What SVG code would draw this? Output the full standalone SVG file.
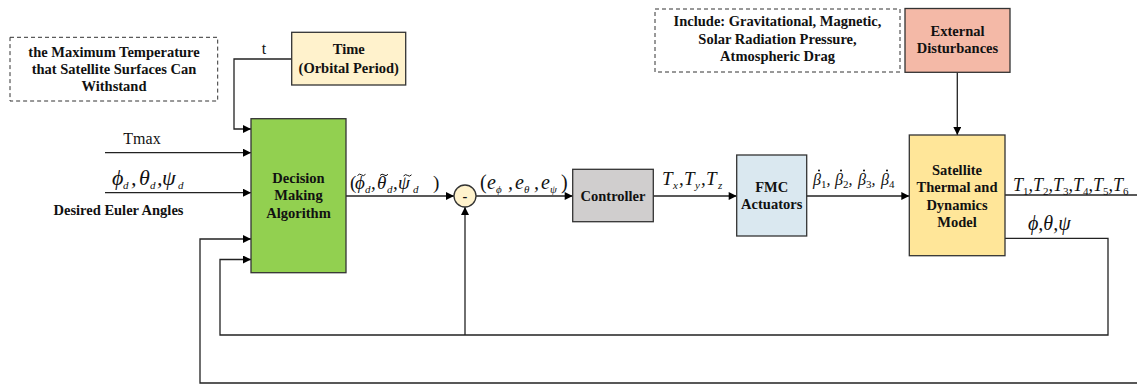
<svg xmlns="http://www.w3.org/2000/svg" width="1137" height="385" viewBox="0 0 1137 385">
<defs>
<marker id="arr" viewBox="0 0 10 10" refX="10" refY="5" markerWidth="9" markerHeight="8" markerUnits="userSpaceOnUse" orient="auto">
<path d="M0,0 L10,5 L0,10 z" fill="#000"/>
</marker>
</defs>
<style>
.box{stroke:#333;stroke-width:1.3}
.dash{fill:#fff;stroke:#333;stroke-width:1;stroke-dasharray:4,3}
.bt{font-family:'Liberation Serif','Times New Roman',serif;font-weight:bold;font-size:14.5px;fill:#111;text-anchor:middle}
.rt{font-family:'Liberation Serif','Times New Roman',serif;font-size:16px;fill:#111}
.m{font-family:'Liberation Serif','Times New Roman',serif;font-style:italic;fill:#111}
.n{font-style:normal}
.sub{font-size:11px}
.til{fill:none;stroke:#111;stroke-width:1}
.ln{fill:none;stroke:#222;stroke-width:1.3}
.la{fill:none;stroke:#222;stroke-width:1.3;marker-end:url(#arr)}
</style>
<rect width="1137" height="385" fill="#fff"/>

<g id="connectors">
<polyline class="la" points="291.7,59 234,59 234,129 251,129"/>
<line class="la" x1="105" y1="152.7" x2="251" y2="152.7"/>
<line class="la" x1="105" y1="192.7" x2="251" y2="192.7"/>
<line class="la" x1="346" y1="196" x2="454" y2="196"/>
<line class="la" x1="476" y1="196" x2="572.7" y2="196"/>
<line class="la" x1="653.3" y1="196" x2="736.7" y2="196"/>
<line class="la" x1="806.7" y1="196" x2="909.3" y2="196"/>
<line class="la" x1="957.3" y1="72.3" x2="957.3" y2="135"/>
<line class="ln" x1="1005" y1="195" x2="1137" y2="195"/>
<polyline class="la" points="1005,238.3 1108,238.3 1108,335 220,335 220,259.5 251,259.5"/>
<line class="la" x1="465" y1="335" x2="465" y2="207"/>
<polyline class="la" points="1137,383 200,383 200,239 251,239"/>
</g>

<g id="note-temp">
<rect class="dash" x="10" y="37.3" width="207.7" height="63.7"/>
<text class="bt" x="114" y="56.5">the Maximum Temperature</text>
<text class="bt" x="114" y="73.5">that Satellite Surfaces Can</text>
<text class="bt" x="114" y="90.5">Withstand</text>
</g>

<g id="time">
<rect class="box" x="291.7" y="32.3" width="114" height="52.7" fill="#fff2cc"/>
<text class="bt" x="348.7" y="54">Time</text>
<text class="bt" x="348.7" y="73">(Orbital Period)</text>
</g>

<g id="decision">
<rect class="box" x="251" y="118.7" width="95" height="154" fill="#92d050"/>
<text class="bt" x="298.5" y="183">Decision</text>
<text class="bt" x="298.5" y="200">Making</text>
<text class="bt" x="298.5" y="217.5">Algorithm</text>
</g>

<g id="sum">
<circle cx="465" cy="196" r="11" fill="#fff2cc" stroke="#333" stroke-width="1.3"/>
<text class="bt" x="465" y="200.5">-</text>
</g>

<g id="controller">
<rect class="box" x="572.7" y="169.3" width="80.6" height="52.4" fill="#d0cece"/>
<text class="bt" x="613" y="200.5">Controller</text>
</g>

<g id="fmc">
<rect class="box" x="736.7" y="155" width="70" height="81" fill="#dae8f0"/>
<text class="bt" x="771.7" y="192">FMC</text>
<text class="bt" x="771.7" y="209">Actuators</text>
</g>

<g id="satellite">
<rect class="box" x="909.3" y="135" width="95.7" height="120.7" fill="#ffe699"/>
<text class="bt" x="957" y="174.5">Satellite</text>
<text class="bt" x="957" y="192">Thermal and</text>
<text class="bt" x="957" y="209.5">Dynamics</text>
<text class="bt" x="957" y="227">Model</text>
</g>

<g id="note-dist">
<rect class="dash" x="655" y="9" width="245" height="63"/>
<text class="bt" x="777.5" y="26">Include: Gravitational, Magnetic,</text>
<text class="bt" x="777.5" y="43.5">Solar Radiation Pressure,</text>
<text class="bt" x="777.5" y="61">Atmospheric Drag</text>
</g>

<g id="external">
<rect class="box" x="905" y="8.5" width="105" height="63.8" fill="#f4b9a7"/>
<text class="bt" x="957.5" y="35.5">External</text>
<text class="bt" x="957.5" y="53">Disturbances</text>
</g>

<g id="labels">
<text class="rt" x="264" y="54" text-anchor="middle">t</text>
<text class="rt" x="142" y="144" text-anchor="middle">Tmax</text>
<text class="m" y="185" font-size="22"><tspan x="112">ϕ</tspan><tspan class="sub" x="123" dy="4">d</tspan><tspan dy="-4" x="131">,</tspan><tspan x="139">θ</tspan><tspan class="sub" x="150" dy="4">d</tspan><tspan dy="-4" x="157">,</tspan><tspan x="162">ψ</tspan><tspan class="sub" x="178" dy="4">d</tspan></text>
<text class="bt" x="118.5" y="215">Desired Euler Angles</text>

<text class="m" y="189" font-size="19"><tspan class="n" x="350">(</tspan><tspan x="355">ϕ</tspan><tspan class="sub" x="365" dy="4">d</tspan><tspan dy="-4" x="371">,</tspan><tspan x="377">θ</tspan><tspan class="sub" x="387" dy="4">d</tspan><tspan dy="-4" x="393">,</tspan><tspan x="398">ψ</tspan><tspan class="sub" x="413" dy="4">d</tspan><tspan class="n" dy="-4" x="433">)</tspan></text>
<path class="til" d="M357.5,175.5 q2,-2.4 4,-0.6 t4,-0.6"/>
<path class="til" d="M380,175.5 q2,-2.4 4,-0.6 t4,-0.6"/>
<path class="til" d="M403.5,176 q2,-2.4 4,-0.6 t4,-0.6"/>

<text class="m" y="189" font-size="20"><tspan class="n" x="480">(</tspan><tspan x="487">e</tspan><tspan class="sub" dy="4">ϕ</tspan><tspan dy="-4" x="508">,</tspan><tspan x="515">e</tspan><tspan class="sub" dy="4">θ</tspan><tspan dy="-4" x="534">,</tspan><tspan x="541">e</tspan><tspan class="sub" dy="4">ψ</tspan><tspan dy="-4" class="n" x="561">)</tspan></text>
<text class="m" y="185" font-size="19"><tspan x="662">T</tspan><tspan class="sub" x="673" dy="4">x</tspan><tspan dy="-4" x="679">,</tspan><tspan x="684">T</tspan><tspan class="sub" x="695" dy="4">y</tspan><tspan dy="-4" x="701">,</tspan><tspan x="706">T</tspan><tspan class="sub" x="718" dy="4">z</tspan></text>

<text class="m" y="185" font-size="16"><tspan x="813">β</tspan><tspan class="sub n" dy="3">1</tspan><tspan dy="-3">,</tspan><tspan x="835">β</tspan><tspan class="sub n" dy="3">2</tspan><tspan dy="-3">,</tspan><tspan x="858">β</tspan><tspan class="sub n" dy="3">3</tspan><tspan dy="-3">,</tspan><tspan x="881">β</tspan><tspan class="sub n" dy="3">4</tspan></text>
<circle cx="819" cy="170.5" r="1"/>
<circle cx="841" cy="170.5" r="1"/>
<circle cx="864" cy="170.5" r="1"/>
<circle cx="887" cy="170.5" r="1"/>

<text class="m" x="1013" y="191" font-size="18">T<tspan class="sub n" dy="4">1</tspan><tspan dy="-4">,T</tspan><tspan class="sub n" dy="4">2</tspan><tspan dy="-4">,T</tspan><tspan class="sub n" dy="4">3</tspan><tspan dy="-4">,T</tspan><tspan class="sub n" dy="4">4</tspan><tspan dy="-4">,T</tspan><tspan class="sub n" dy="4">5</tspan><tspan dy="-4">,T</tspan><tspan class="sub n" dy="4">6</tspan></text>
<text class="m" x="1028" y="230" font-size="20">ϕ,θ,ψ</text>
</g>
</svg>
